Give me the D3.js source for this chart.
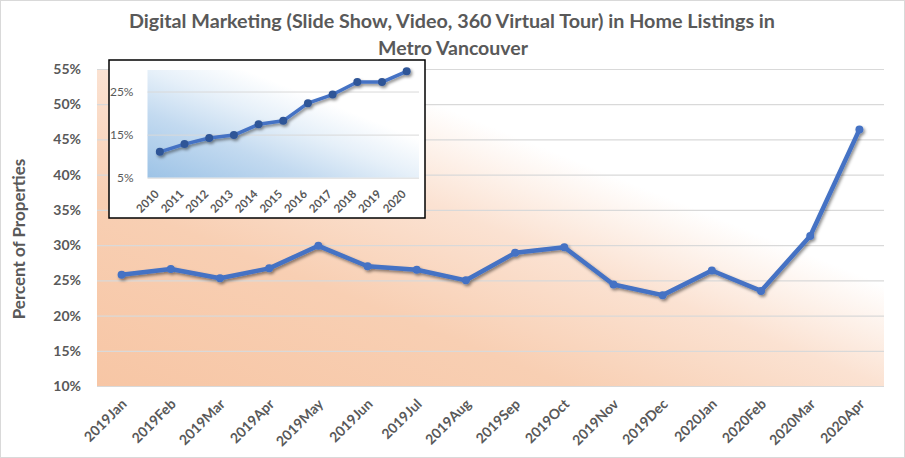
<!DOCTYPE html>
<html><head><meta charset="utf-8">
<script src="https://cdn.jsdelivr.net/npm/d3@7"></script>
<style>
html,body{margin:0;padding:0;background:#fff;}
svg{display:block;font-family:Lato,"Open Sans",sans-serif;}
</style></head>
<body>
<svg id="chart" width="905" height="458"></svg>
<script>
// ---- data ----
const months = ["2019Jan","2019Feb","2019Mar","2019Apr","2019May","2019Jun","2019Jul","2019Aug","2019Sep","2019Oct","2019Nov","2019Dec","2020Jan","2020Feb","2020Mar","2020Apr"];
const monthValues = [25.8,26.6,25.3,26.7,29.9,27.0,26.5,25.0,28.9,29.7,24.4,22.9,26.4,23.5,31.3,46.4];
const yTicks = [10,15,20,25,30,35,40,45,50,55];
const years = ["2010","2011","2012","2013","2014","2015","2016","2017","2018","2019","2020"];
const yearValues = [11.0,12.8,14.2,14.9,17.4,18.2,22.3,24.3,27.2,27.2,29.7];
const insetTicks = [5,15,25];
const title1 = "Digital Marketing  (Slide Show, Video, 360 Virtual  Tour) in Home Listings in";
const title2 = "Metro Vancouver";
const yTitle = "Percent of Properties";

const svg = d3.select("#chart");
const txt = "#595959", grid = "#d9d9d9", blue = "#4472c4";

// border
svg.append("rect").attr("x",0.5).attr("y",0.5).attr("width",904).attr("height",457)
  .attr("fill","#fff").attr("stroke","#d9d9d9");

const defs = svg.append("defs");
const g1 = defs.append("linearGradient").attr("id","peach").attr("x1",0).attr("y1",1).attr("x2",1).attr("y2",0);
[[0,"#f7c6a5"],[0.3,"#f8cfb3"],[0.5,"#fbe2d2"],[0.66,"#ffffff"],[1,"#ffffff"]].forEach(s=>g1.append("stop").attr("offset",s[0]).attr("stop-color",s[1]));
const g2 = defs.append("linearGradient").attr("id","bluegrad").attr("x1",0).attr("y1",1).attr("x2",1).attr("y2",0);
[[0,"#9dc3e6"],[0.3,"#c3daf0"],[0.5,"#e6f0f9"],[0.68,"#ffffff"],[1,"#ffffff"]].forEach(s=>g2.append("stop").attr("offset",s[0]).attr("stop-color",s[1]));
const sh = defs.append("filter").attr("id","shadow").attr("x","-10%").attr("y","-10%").attr("width","120%").attr("height","130%");
sh.append("feDropShadow").attr("dx",1.5).attr("dy",2).attr("stdDeviation",1.5).attr("flood-color","#000").attr("flood-opacity",0.45);

// title
svg.append("text").attr("x",452).attr("y",28).attr("text-anchor","middle").attr("fill",txt)
  .attr("font-size",19).attr("font-weight","bold").attr("textLength",646).attr("lengthAdjust","spacingAndGlyphs").text(title1);
svg.append("text").attr("x",453).attr("y",55).attr("text-anchor","middle").attr("fill",txt)
  .attr("font-size",19).attr("font-weight","bold").attr("textLength",150).attr("lengthAdjust","spacingAndGlyphs").text(title2);

// main chart
const L=97, R=884, T=69, B=386;
const x = d3.scaleBand().domain(months).range([L,R]);
const y = d3.scaleLinear().domain([10,55]).range([B,T]);

svg.append("rect").attr("x",L).attr("y",T).attr("width",R-L).attr("height",B-T).attr("fill","url(#peach)");

const yAxis = svg.append("g").attr("transform",`translate(${L},0)`)
  .call(d3.axisLeft(y).tickValues(yTicks).tickFormat(d=>d+"%").tickSize(-(R-L)).tickPadding(16));
yAxis.select(".domain").remove();
yAxis.selectAll("line").attr("stroke",grid).attr("stroke-width",1.2);
yAxis.selectAll("text").attr("fill",txt).attr("font-size",14).attr("font-weight","bold").attr("font-family","Lato,sans-serif");

const xAxis = svg.append("g").attr("transform",`translate(0,${B})`)
  .call(d3.axisBottom(x).tickSize(0).tickPadding(0));
xAxis.select(".domain").remove();
xAxis.selectAll("text").attr("fill",txt).attr("font-size",14).attr("font-weight","bold").attr("font-family","Lato,sans-serif")
  .attr("text-anchor","end").attr("dy",0).attr("transform","translate(6,19) rotate(-45)");

svg.append("text").attr("transform","translate(25,239) rotate(-90)").attr("text-anchor","middle")
  .attr("fill",txt).attr("font-size",17).attr("font-weight","bold").text(yTitle);

const line = d3.line().x((d,i)=>x(months[i])+x.bandwidth()/2).y(d=>y(d));
const mg = svg.append("g").attr("filter","url(#shadow)");
mg.append("path").datum(monthValues).attr("d",line).attr("fill","none").attr("stroke",blue).attr("stroke-width",4.5).attr("stroke-linejoin","round");
mg.selectAll("circle").data(monthValues).enter().append("circle")
  .attr("cx",(d,i)=>x(months[i])+x.bandwidth()/2).attr("cy",d=>y(d)).attr("r",4).attr("fill",blue);

// inset
const iL=147.5, iR=419, iT=70, iB=177.7;
svg.append("rect").attr("x",109).attr("y",60).attr("width",316).attr("height",158).attr("fill","#fff").attr("stroke","#000").attr("stroke-width",1.5);
const ix = d3.scaleBand().domain(years).range([iL,iR]);
const iy = d3.scaleLinear().domain([5,30]).range([iB,iT]);
svg.append("rect").attr("x",iL).attr("y",iT).attr("width",iR-iL).attr("height",iB-iT).attr("fill","url(#bluegrad)");
const iyAxis = svg.append("g").attr("transform",`translate(${iL},0)`)
  .call(d3.axisLeft(iy).tickValues(insetTicks).tickFormat(d=>d+"%").tickSize(-(iR-iL)).tickPadding(14));
iyAxis.select(".domain").remove();
iyAxis.selectAll("line").attr("stroke",grid).attr("stroke-width",1);
iyAxis.selectAll("text").attr("fill",txt).attr("font-size",12).attr("font-family","Lato,sans-serif");
const ixAxis = svg.append("g").attr("transform",`translate(0,${iB})`)
  .call(d3.axisBottom(ix).tickSize(0).tickPadding(0));
ixAxis.select(".domain").remove();
ixAxis.selectAll("text").attr("fill",txt).attr("font-size",11.5).attr("font-weight","bold").attr("font-family","Lato,sans-serif")
  .attr("text-anchor","end").attr("dy",0).attr("transform","translate(0,17) rotate(-45)");
const iline = d3.line().x((d,i)=>ix(years[i])+ix.bandwidth()/2).y(d=>iy(d));
const ig = svg.append("g").attr("filter","url(#shadow)");
ig.append("path").datum(yearValues).attr("d",iline).attr("fill","none").attr("stroke",blue).attr("stroke-width",3.5).attr("stroke-linejoin","round");
ig.selectAll("circle").data(yearValues).enter().append("circle")
  .attr("cx",(d,i)=>ix(years[i])+ix.bandwidth()/2).attr("cy",d=>iy(d)).attr("r",4).attr("fill","#2f5597");
</script>
</body></html>
